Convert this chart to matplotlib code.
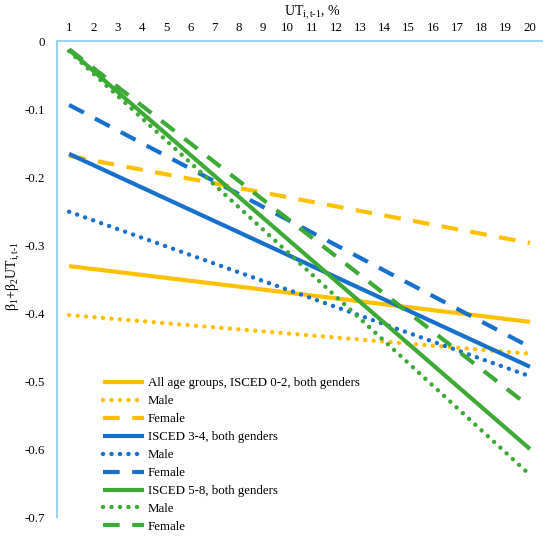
import matplotlib
matplotlib.use('Agg')
import matplotlib.pyplot as plt

# UT_{i,t-1} from 1 to 20 %, each line is straight so only its two ends are kept
ut = [1, 20]
labels = ['All age groups, ISCED 0-2, both genders', 'Male', 'Female',
          'ISCED 3-4, both genders', 'Male', 'Female',
          'ISCED 5-8, both genders', 'Male', 'Female']
start_vals = [-0.331, -0.403, -0.169, -0.166, -0.251, -0.094, -0.013, -0.015, -0.012]
end_vals = [-0.413, -0.460, -0.297, -0.479, -0.493, -0.450, -0.600, -0.638, -0.538]
colors = ['#FFC000'] * 3 + ['#1670CC'] * 3 + ['#3DAA35'] * 3
styles = ['solid', 'dot', 'dash'] * 3

plt.rcParams['font.family'] = ['Liberation Serif', 'DejaVu Serif']
plt.rcParams['mathtext.fontset'] = 'custom'
plt.rcParams['mathtext.rm'] = 'Liberation Serif'
plt.rcParams['mathtext.it'] = 'Liberation Serif:italic'

fig = plt.figure(figsize=(5.5, 5.37), dpi=100)
ax = fig.add_axes([0.1036, 0.0372, 0.882, 0.8864])

for y0, y1, c, s, lab in zip(start_vals, end_vals, colors, styles, labels):
    if s == 'solid':
        ax.plot(ut, [y0, y1], color=c, lw=3, solid_capstyle='butt', label=lab)
    elif s == 'dot':
        ax.plot(ut, [y0, y1], color=c, lw=3.2, linestyle=(0, (0.01, 1.9)),
                dash_capstyle='round', label=lab)
    else:
        ax.plot(ut, [y0, y1], color=c, lw=3, linestyle=(0, (4, 3)),
                dash_capstyle='butt', label=lab)

ax.set_xlim(0.5, 20.5)
ax.set_ylim(-0.7, 0)
ax.set_xticks(range(1, 21))
ax.set_yticks([0, -0.1, -0.2, -0.3, -0.4, -0.5, -0.6, -0.7])
ax.set_yticklabels(['0', '-0.1', '-0.2', '-0.3', '-0.4', '-0.5', '-0.6', '-0.7'])
ax.xaxis.tick_top()
ax.tick_params(axis='both', length=0, labelsize=9.3)
ax.tick_params(axis='y', pad=8.5)
ax.tick_params(axis='x', pad=5)

for side in ['right', 'bottom']:
    ax.spines[side].set_visible(False)
for side in ['top', 'left']:
    ax.spines[side].set_color('#9DD3F0')
    ax.spines[side].set_linewidth(1.5)

fig.text(312 / 550, 1 - 13 / 537, r'UT$_{\mathrm{i,t\text{-}1}}$, %', ha='center', va='center', fontsize=10)
fig.text(14 / 550, 1 - 276 / 537, r'$\mathrm{\beta_1}$+$\mathrm{\beta_2}$UT$_{\mathrm{i,t\text{-}1}}$',
         rotation=90, ha='center', va='center', fontsize=10)

leg = ax.legend(loc='upper left', bbox_to_anchor=(0.095, 0.294), frameon=False,
                fontsize=9.3, handlelength=3.2, handletextpad=0.25, labelspacing=0.46,
                borderpad=0, borderaxespad=0)

fig.savefig('out.png', dpi=100)
